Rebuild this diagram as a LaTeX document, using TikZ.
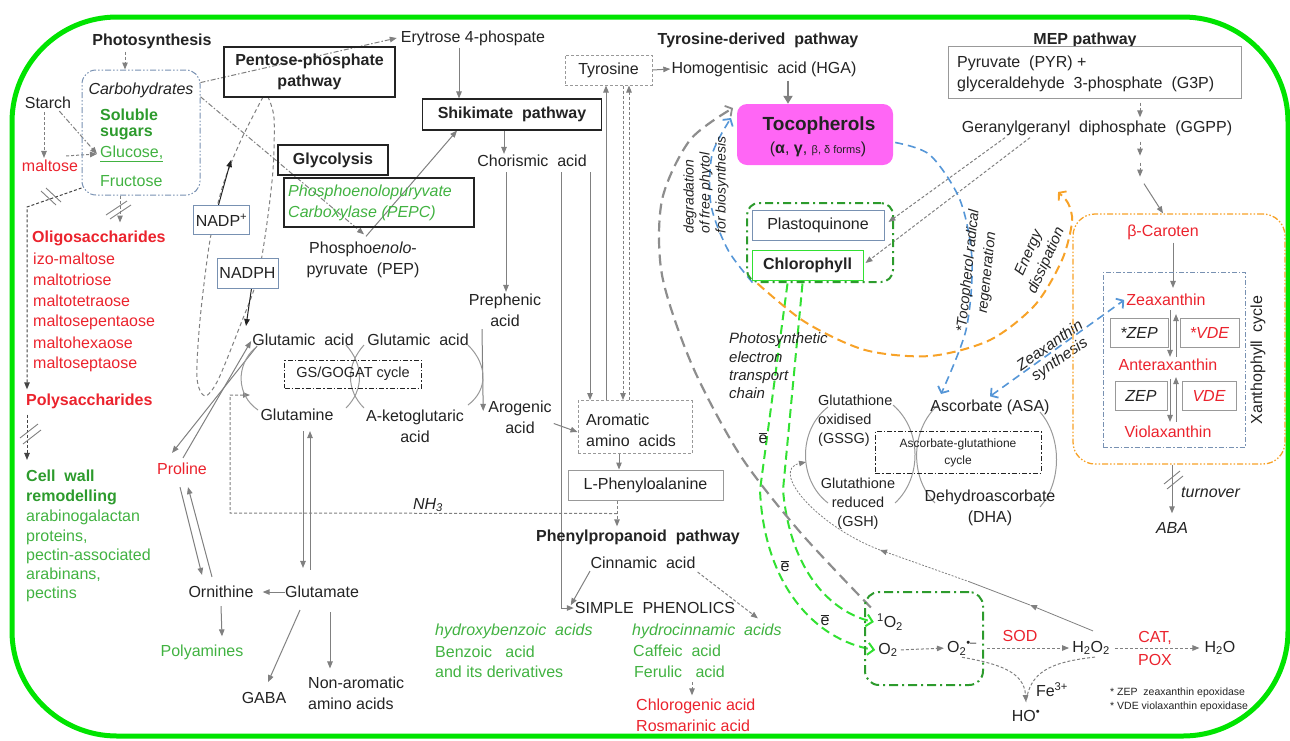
\documentclass[tikz,border=0pt]{standalone}
\usepackage{fontspec}
\setmainfont{Liberation Sans}
\usetikzlibrary{arrows.meta,calc}
\pgfdeclarelayer{bg}
\pgfsetlayers{bg,main}
\definecolor{ggreen}{RGB}{0,228,0}
\definecolor{tred}{RGB}{235,35,45}
\definecolor{tgreen}{RGB}{65,178,65}
\definecolor{dgreen}{RGB}{45,155,45}
\definecolor{agray}{RGB}{128,128,128}
\definecolor{bgray}{RGB}{120,145,178}
\definecolor{lblue}{RGB}{85,150,215}
\definecolor{orng}{RGB}{247,162,40}
\definecolor{magent}{RGB}{255,102,245}
\definecolor{lgreen}{RGB}{50,225,50}
\definecolor{tx}{RGB}{35,35,35}
\tikzset{
 T/.style={font=\fontsize{16}{21}\selectfont, text=tx, inner sep=0pt, align=center},
 TB/.style={T, font=\fontsize{16}{21}\selectfont\bfseries},
 TI/.style={T, font=\fontsize{16}{21}\selectfont\itshape},
 TR/.style={T, text=tred},
 TRB/.style={TB, text=tred},
 TRI/.style={TI, text=tred},
 TG/.style={T, text=tgreen},
 TGB/.style={TB, text=dgreen},
 TGI/.style={TI, text=tgreen},
 kbox/.style={draw=tx, line width=1.1pt, inner sep=0pt},
 gbox/.style={draw=agray!80, line width=1pt, fill=white, inner sep=0pt},
 bbox/.style={draw=bgray, line width=1pt, fill=white, inner sep=0pt},
 ddot/.style={dash pattern=on 6pt off 2pt on 1.5pt off 2pt on 1.5pt off 2pt},
 dd/.style={dash pattern=on 5pt off 2pt on 1.5pt off 2pt},
 atip/.style={-{Triangle[length=7pt,width=5.5pt]}},
 ar/.style={draw=agray, line width=1pt, atip},
 dar/.style={ar, dash pattern=on 3pt off 2pt},
 ddar/.style={ar, dd},
 brk/.style={draw=agray, line width=0.9pt},
 barb/.style={-{Straight Barb[length=5pt,width=12pt,line width=1.8pt]}},
 cyc/.style={draw=agray!80, line width=1pt},
}
\begin{document}
\begin{tikzpicture}[x=1pt,y=-1pt]
\useasboundingbox (0,0) rectangle (1290,740);
\draw[ggreen, line width=5pt, rounded corners=105pt] (12,17) rectangle (1288,736);

% ---------- left column
\node[TB] (photo) at (152,41) {Photosynthesis};
\node[draw=bgray, line width=1pt, ddot, rounded corners=14pt, minimum width=118pt, minimum height=125pt, inner sep=0pt] (carb) at (141,132.5) {};
\node[TI] (carbt) at (141,90) {Carbohydrates};
\node[TGB, anchor=west] (sol) at (100,115) {Soluble};
\node[TGB, anchor=west] (sug) at (100,134) {sugars};
\node[TG, anchor=west] (glc) at (100,154) {\underline{Glucose,}};
\node[TG, anchor=west] (fru) at (100,181) {Fructose};
\node[T] (starch) at (48,103) {Starch};
\node[TR] (malt) at (50,166) {maltose};
\node[TRB, anchor=west] (oligo) at (32,238) {Oligosaccharides};
\foreach \t [count=\i] in {izo-maltose,maltotriose,maltotetraose,maltosepentaose,maltohexaose,maltoseptaose}
  \node[TR, anchor=west] (ol\i) at (33,{238+21*\i}) {\t};
\node[TRB, anchor=west] (poly) at (26,401) {Polysaccharides};
\node[TGB, anchor=west] (cw1) at (26,476) {Cell\ \ wall};
\node[TGB, anchor=west] (cw2) at (26,497) {remodelling};
\node[TG, anchor=west] (cw3) at (26,517) {arabinogalactan};
\node[TG, anchor=west] (cw4) at (26,537) {proteins,};
\node[TG, anchor=west] (cw5) at (26,556) {pectin-associated};
\node[TG, anchor=west] (cw6) at (26,575) {arabinans,};
\node[TG, anchor=west] (cw7) at (26,594) {pectins};

% ---------- pentose / glycolysis
\node[kbox, TB, minimum width=171pt, minimum height=50pt] (ppp) at (309.5,72) {Pentose-phosphate\\pathway};
\node[kbox, TB, minimum width=110pt, minimum height=30pt] (glyc) at (333,160) {Glycolysis};
\node[kbox, minimum width=190pt, minimum height=49pt] (pepc) at (379,202.5) {};
\node[TGI, anchor=west, align=left] (pepct) at (288,203) {Phosphoenolopuryvate\\Carboxylase (PEPC)};
\node[T] (pep) at (363,259.5) {Phospho\textit{enolo}-\\pyruvate\ \ (PEP)};
\node[bbox, T, minimum width=56pt, minimum height=29pt] (nadp) at (221.5,220) {NADP\textsuperscript{+}};
\node[bbox, T, minimum width=61pt, minimum height=30pt] (nadph) at (247.5,273) {NADPH};
\coordinate (nadptip) at (231,160);
\coordinate (nadphtip) at (246,326);

% ---------- shikimate
\node[T] (ery) at (473,38) {Erytrose 4-phospate};
\node[kbox, TB, minimum width=179pt, minimum height=31pt] (shik) at (512,114.5) {Shikimate\ \ pathway};
\node[T] (chor) at (532,161) {Chorismic\ \ acid};
\node[T] (preph) at (505,310.5) {Prephenic\\acid};
\node[T] (arog) at (520,417.5) {Arogenic\\acid};
\node[draw=agray!80, line width=1pt, dash pattern=on 3pt off 2pt, minimum width=114pt, minimum height=53pt, inner sep=0pt] (arom) at (635,427) {};
\node[T, anchor=west, align=left] (aromt) at (586,430) {Aromatic\\amino\ \ acids};
\node[gbox, T, dash pattern=on 3pt off 2pt, minimum width=87pt, minimum height=30pt] (tyr) at (608.5,70) {Tyrosine};
\node[gbox, T, minimum width=155pt, minimum height=30pt] (lphe) at (645.5,485) {L-Phenyloalanine};
\node[TB] (phpp) at (638,537) {Phenylpropanoid\ \ pathway};
\node[T] (cinn) at (643,563) {Cinnamic\ \ acid};
\node[T] (simp) at (655,608) {SIMPLE\ \ PHENOLICS};
\node[TGI, anchor=west] (hba) at (435,631) {hydroxybenzoic\ \ acids};
\node[TG, anchor=west] (benz) at (435,652) {Benzoic\ \ \ acid};
\node[TG, anchor=west] (deriv) at (435,672) {and its derivatives};
\node[TGI, anchor=west] (hca) at (632,631) {hydrocinnamic\ \ acids};
\node[TG, anchor=west] (caf) at (633,651) {Caffeic\ \ acid};
\node[TG, anchor=west] (fer) at (634,672) {Ferulic\ \ \ acid};
\node[TR, anchor=west] (chlg) at (636,706) {Chlorogenic acid};
\node[TR, anchor=west] (rosm) at (636,726) {Rosmarinic acid};

% ---------- GS/GOGAT
\node[T] (glu1) at (303,340) {Glutamic\ \ acid};
\node[T] (glu2) at (418,340) {Glutamic\ \ acid};
\node[draw=tx, line width=1pt, dd, minimum width=137pt, minimum height=28pt, inner sep=0pt, T, font=\fontsize{14.5}{17}\selectfont] (gsgo) at (353,374) {GS/GOGAT cycle};
\node[T] (gln) at (297,415) {Glutamine};
\node[T] (akg) at (415,426) {A-ketoglutaric\\acid};
\node[TR] (pro) at (182,469) {Proline};
\node[T] (orn) at (221,592) {Ornithine};
\node[T] (glut) at (322,592) {Glutamate};
\node[TG] (pam) at (202,652) {Polyamines};
\node[T] (gaba) at (264,698) {GABA};
\node[T, anchor=west, align=left] (nonar) at (308,693) {Non-aromatic\\amino acids};
\node[TI] (nh3) at (428,505) {NH\textsubscript{3}};
\coordinate (nhj) at ([xshift=-28.5pt,yshift=-13pt]lphe.south);
\coordinate (nhend) at (250,395);

% ---------- tyrosine-derived / tocopherols
\node[TB] (tdp) at (758,40) {Tyrosine-derived\ \ pathway};
\node[T] (hga) at (764,69) {Homogentisic\ \ acid (HGA)};
\node[fill=magent, rounded corners=10pt, minimum width=156pt, minimum height=61pt, inner sep=0pt] (toco) at (815,134.5) {};
\node[TB, font=\fontsize{19}{22}\selectfont\bfseries] (tocot) at (819,126) {Tocopherols};
\node[T] (tocof) at (818,149) {(\textbf{α}, \textbf{γ}, {\fontsize{11}{13}\selectfont β, δ forms})};
\node[draw=dgreen, line width=2pt, dash pattern=on 8pt off 4pt on 2pt off 4pt, rounded corners=12pt, minimum width=146pt, minimum height=79pt, inner sep=0pt] (pcbox) at (820,242.5) {};
\node[bbox, T, minimum width=132pt, minimum height=30pt] (pq) at (818,225) {Plastoquinone};
\node[draw=lgreen, line width=1pt, fill=white, TB, minimum width=111pt, minimum height=30pt] (chl) at (807.5,265) {Chlorophyll};
\node[TI, font=\fontsize{14}{16}\selectfont\itshape, align=left, rotate=90] (degr) at (706,185) {degradation\\of free phytol\\for biosynthesis};
\node[TI, font=\fontsize{15}{18.3}\selectfont\itshape, align=left, anchor=west] (pet) at (729,366) {Photosynthetic\\electron\\transport\\chain};
\node[TI, font=\fontsize{14.5}{19}\selectfont\itshape, rotate=84] (trr) at (978,272) {*Tocopherol radical\\regeneration};
\node[TI, font=\fontsize{15}{19}\selectfont\itshape, rotate=66] (ened) at (1038,257) {Energy\\dissipation};
\node[TI, font=\fontsize{15.5}{17}\selectfont\itshape, rotate=35] (zsyn) at (1055,353) {Zeaxanthin\\synthesis};

% ---------- MEP
\node[TB] (mep) at (1085,40) {MEP pathway};
\node[gbox, minimum width=293pt, minimum height=52pt] (pyr) at (1094.5,72) {};
\node[T, anchor=west, align=left] (pyrt) at (957,74) {Pyruvate\ \ (PYR) +\\glyceraldehyde\ \ 3-phosphate\ \ (G3P)};
\node[T] (ggpp) at (1097,128) {Geranylgeranyl\ \ diphosphate\ \ (GGPP)};

% ---------- xanthophyll
\node[draw=orng, line width=1.3pt, ddot, rounded corners=22pt, minimum width=212pt, minimum height=250pt, inner sep=0pt] (obox) at (1179,339) {};
\node[draw=bgray, line width=1pt, dd, minimum width=142pt, minimum height=175pt, inner sep=0pt] (xbox) at (1174,359.5) {};
\node[TR] (bcar) at (1163,232) {β-Caroten};
\node[TR] (zea) at (1166,300) {Zeaxanthin};
\node[gbox, TI, minimum width=58pt, minimum height=29pt] (zep1) at (1139,332.5) {*ZEP};
\node[gbox, TRI, minimum width=59pt, minimum height=29pt] (vde1) at (1209.5,332.5) {*VDE};
\node[TR] (ant) at (1168,365) {Anteraxanthin};
\node[gbox, TI, minimum width=52pt, minimum height=29pt] (zep2) at (1141,395.5) {ZEP};
\node[gbox, TRI, minimum width=54pt, minimum height=29pt] (vde2) at (1209,395.5) {VDE};
\node[TR] (vio) at (1168,432) {Violaxanthin};
\node[T, rotate=90] (xc) at (1258,360) {Xanthophyll\ \ cycle};
\node[TI, anchor=west] (turn) at (1181,492) {turnover};
\node[TI] (aba) at (1172,528) {ABA};

% ---------- ascorbate-glutathione
\node[T, font=\fontsize{14.5}{19}\selectfont, anchor=west, align=left] (gssg) at (818,420.5) {Glutathione\\oxidised\\(GSSG)};
\node[T, font=\fontsize{14.5}{19}\selectfont] (gsh) at (858,504) {Glutathione\\reduced\\(GSH)};
\node[T] (asa) at (990,407) {Ascorbate (ASA)};
\node[draw=tx, line width=1pt, dd, minimum width=166pt, minimum height=42pt, inner sep=0pt] (agbox) at (958,452) {};
\node[T, font=\fontsize{12}{17}\selectfont] (agt) at (958,453) {Ascorbate-glutathione\\cycle};
\node[T] (dha) at (990,507.5) {Dehydroascorbate\\(DHA)};

% ---------- ROS
\node[draw=dgreen, line width=2pt, dash pattern=on 9pt off 4pt on 2pt off 4pt, rounded corners=14pt, minimum width=118pt, minimum height=93pt, inner sep=0pt] (rosbox) at (924,638.5) {};
\node[T] (so2) at (890,622) {\textsuperscript{1}O\textsubscript{2}};
\node[T] (o2) at (888,650) {O\textsubscript{2}};
\node[T] (sup) at (962,648) {O\textsubscript{2}\textsuperscript{•–}};
\node[TR] (sod) at (1020,636) {SOD};
\node[T] (h2o2) at (1091,648) {H\textsubscript{2}O\textsubscript{2}};
\node[TR, font=\fontsize{16}{23}\selectfont] (cat) at (1155,648.5) {CAT,\\POX};
\node[T] (h2o) at (1220,648) {H\textsubscript{2}O};
\node[T] (fe) at (1052,690) {Fe\textsuperscript{3+}};
\node[T] (ho) at (1026,716) {HO\textsuperscript{•}};
\node[T, font=\fontsize{10.5}{14}\selectfont, anchor=west, align=left] (fn) at (1110,700) {* ZEP\ \ zeaxanthin epoxidase\\* VDE violaxanthin epoxidase};
\node[T] (e1) at (763,438) {$\overline{\mbox{e}}$};
\node[T] (e2) at (785,566) {$\overline{\mbox{e}}$};
\node[T] (e3) at (825,620) {$\overline{\mbox{e}}$};

% curve helper coordinates
\coordinate (g0) at ([xshift=-6pt,yshift=6pt]so2.north west);
\coordinate (g1) at (733,108);
\coordinate (b0) at ([xshift=1pt,yshift=-2pt]chl.south west);
\coordinate (b1) at (731,118);
\coordinate (c0) at ([xshift=2pt,yshift=-8pt]toco.east);
\coordinate (c1) at (941,394);
\coordinate (o0) at ([xshift=6pt,yshift=-3pt]chl.south west);
\coordinate (o1) at (1058,192);
\coordinate (r1) at (1030,605);
\coordinate (r2) at (970,582);
\coordinate (r3) at (880,550);
\coordinate (r4) at (806,462);

\begin{pgfonlayer}{bg}
% left column
\draw[dar] ([xshift=-27pt,yshift=-3pt]photo.south) -- ([xshift=-16pt]carb.north);
\draw[dar] ([xshift=-4pt,yshift=-3pt]starch.south) -- ([xshift=-6pt,yshift=2pt]malt.north);
\draw[ddar] ([xshift=-12pt,yshift=-2pt]starch.south east) -- ([xshift=-3pt]glc.west);
\draw[dar] ([xshift=-12pt,yshift=4pt]malt.north east) -- ([xshift=-3pt]glc.west);
\draw[dar] ([xshift=-21pt]carb.south) -- ++(0,27);
\draw[brk] (106,215) -- (127,201) (110,219) -- (131,205);
\draw[dar, draw=tx!85] (carb.223) -- (27,207) -- ([xshift=1pt,yshift=4pt]poly.north west);
\draw[brk] (41,191) -- (56,205) (46,188) -- (61,202);
\draw[dar, draw=tx!85] ([xshift=1pt,yshift=-6pt]poly.south west) -- ([xshift=1pt,yshift=10pt]cw1.north west);
\draw[brk] (20,438) -- (38,424) (23,444) -- (41,430);
% pentose loop
\draw[agray, line width=1pt, dash pattern=on 4pt off 3pt] plot[smooth] coordinates {(263,97) (241,140) (223,185) (210,240) (200,320) (197,378) (205,396) (218,380) (240,326) (257,280) (266,230) (273,170) (274,118) (268,97)};
\draw[ddar] (carb.40) -- ([xshift=-4pt]ery.west);
\draw[ddar] (carb.31) -- ([xshift=1pt,yshift=7pt]pep.north);
\draw[ar] ([xshift=3pt,yshift=5pt]pep.north) -- ([xshift=-55pt]shik.south);
\draw[ar, draw=tx] ([xshift=-3pt]nadp.north) -- (nadptip);
\draw[ar, draw=tx] ([xshift=4pt]nadph.south) -- (nadphtip);
% shikimate
\draw[ar] ([xshift=-14pt,yshift=-2pt]ery.south) -- ([xshift=-53pt]shik.north);
\draw[ar] ([xshift=-8pt]shik.south) -- ([xshift=-28pt,yshift=1pt]chor.north);
\draw[ar] ([xshift=-26pt,yshift=-5pt]chor.south) -- ([xshift=1pt,yshift=2pt]preph.north);
\draw[ar] ([xshift=29pt,yshift=-5pt]chor.south) |- ([xshift=-1pt]simp.west);
\draw[ar] ([xshift=58pt,yshift=-5pt]chor.south) -- ([xshift=-45pt]arom.north);
\draw[ar] ([xshift=-29pt]arom.north) -- ([xshift=-2.5pt]tyr.south);
\draw[dar] ([xshift=14.5pt]tyr.south) -- ([xshift=-12pt]arom.north);
\draw[dar] ([xshift=-6pt]arom.north) -- ([xshift=20.5pt]tyr.south);
\draw[ar] (tyr.east) -- ([xshift=-1pt]hga.west);
\draw[ar, line width=2.5pt, -{Triangle[length=8pt,width=9pt]}] ([xshift=24pt,yshift=-4pt]hga.south) -- ([xshift=-27pt]toco.north);
\draw[ar] ([xshift=-23pt,yshift=-2pt]preph.south) -- ([xshift=-5pt,yshift=-10pt]arog.north west);
\draw[ar] ([xshift=2pt,yshift=-6pt]arog.east) -- ([yshift=-5pt]arom.west);
\draw[ar] ([xshift=-16pt]arom.south) -- ([xshift=-26.5pt]lphe.north);
\draw[dar] ([xshift=-28.5pt]lphe.south) -- ([xshift=-21pt,yshift=3pt]phpp.north);
\draw[dar] (nhj) -- (230,513) -- (230,395) -- (nhend);
\draw[ar] ([xshift=-53pt,yshift=-2pt]cinn.south) -- ([xshift=-4pt,yshift=-3pt]simp.north west);
\draw[dar] ([xshift=2pt,yshift=-3pt]cinn.south east) -- ([xshift=51pt,yshift=5pt]hca.north);
\draw[dar] ([xshift=58pt,yshift=-4pt]fer.south west) -- ([xshift=56pt,yshift=3pt]chlg.north west);
% GS/GOGAT
\draw[ar] ([xshift=1pt,yshift=5pt]pro.north) -- ([xshift=-1pt,yshift=-1pt]glu1.west);
\draw[ar] ([xshift=5pt,yshift=-6pt]glu1.west) -- ([xshift=-10pt,yshift=10pt]pro.north);
\draw[ar] ([xshift=-9pt,yshift=9pt]orn.north) -- ([xshift=6pt,yshift=-12pt]pro.south);
\draw[ar] ([xshift=-2pt,yshift=-12pt]pro.south) -- ([xshift=-19pt,yshift=11pt]orn.north);
\draw[ar] ([xshift=6pt,yshift=-10pt]gln.south) -- ([xshift=-19pt,yshift=18pt]glut.north);
\draw[ar] ([xshift=-12pt,yshift=16pt]glut.north) -- ([xshift=13pt,yshift=-10pt]gln.south);
\draw[ar, shorten >=9pt] (glut.west) -- (orn.east);
\draw[ar] ([yshift=-8pt]orn.south) -- ([xshift=20pt,yshift=8pt]pam.north);
\draw[ar] ([xshift=-22pt,yshift=-12pt]glut.south) -- ([xshift=4pt,yshift=10pt]gaba.north);
\draw[ar] ([xshift=8pt,yshift=-14pt]glut.south) -- ([xshift=22pt,yshift=8pt]nonar.north west);
\draw[cyc] (255,348) .. controls (236,365) and (236,395) .. (258,410);
\draw[cyc] (346,345) .. controls (364,365) and (364,390) .. (346,408);
\draw[cyc] (364,345) .. controls (346,365) and (346,390) .. (364,408);
\draw[cyc] (468,345) .. controls (488,365) and (488,390) .. (468,405);
% ascorbate cycle arcs
\draw[cyc] (828,407) .. controls (798,430) and (798,480) .. (828,503);
\draw[cyc] (893,405) .. controls (922,430) and (922,478) .. (895,503);
\draw[cyc] (938,405) .. controls (910,430) and (910,478) .. (935,503);
\draw[cyc] (1040,412) .. controls (1062,437) and (1062,482) .. (1040,507);
% MEP
\draw[dar, shorten <=4pt, shorten >=3pt] ([xshift=45.5pt]pyr.south) -- ([xshift=43pt]ggpp.north);
\draw[dar] ([xshift=43pt,yshift=-6pt]ggpp.south) -- ++(0,14);
\draw[dar] ([xshift=43pt,yshift=-27pt]ggpp.south) -- ++(0,14);
\draw[ar] ([xshift=47pt,yshift=-48pt]ggpp.south) -- ([xshift=-16pt]obox.north);
\draw[dar] ([xshift=-92pt,yshift=-2pt]ggpp.south) -- ([xshift=4pt,yshift=3pt]pq.east);
\draw[dar] ([xshift=-67pt,yshift=-2pt]ggpp.south) -- ([xshift=2pt,yshift=2pt]chl.east);
% xanthophyll
\draw[ar] ([xshift=10pt,yshift=-3pt]bcar.south) -- ([xshift=7pt,yshift=6pt]zea.north);
\draw[ar] ([xshift=4pt,yshift=-4pt]zea.south) -- ([xshift=2pt,yshift=2pt]ant.north);
\draw[ar] ([xshift=8pt,yshift=2pt]ant.north) -- ([xshift=10pt,yshift=-8pt]zea.south);
\draw[ar] ([xshift=2pt,yshift=-8pt]ant.south) -- ([xshift=2pt,yshift=4pt]vio.north);
\draw[ar] ([xshift=8pt,yshift=4pt]vio.north) -- ([xshift=8pt,yshift=-6pt]ant.south);
\draw[ar] ([xshift=-7pt]obox.south) -- ([yshift=9pt]aba.north);
\draw[brk] (1164,484) -- (1180,471) (1167,489) -- (1183,476);
% curved connectors
\draw[lgreen, line width=2pt, dash pattern=on 9pt off 5pt, -{Straight Barb[length=6pt,width=12pt,line width=2pt]}] ([xshift=-20pt,yshift=-3pt]chl.south) -- (760,490) .. controls (764,585) and (815,640) .. ([xshift=-3pt]o2.west);
\draw[lgreen, line width=2pt, dash pattern=on 9pt off 5pt, -{Straight Barb[length=6pt,width=12pt,line width=2pt]}] ([xshift=-5pt,yshift=-3pt]chl.south) -- (783,490) .. controls (790,570) and (830,612) .. ([xshift=-3pt]so2.west);
\draw[agray!90, line width=2.2pt, dash pattern=on 11pt off 6pt, barb] plot[smooth] coordinates {(g0) (800,532) (740,455) (692,365) (662,275) (662,200) (690,140) (g1)};
\draw[lblue, line width=1.6pt, dash pattern=on 8pt off 5pt, barb] plot[smooth] coordinates {(b0) (728,250) (711,205) (712,155) (b1)};
\draw[lblue, line width=1.6pt, dash pattern=on 8pt off 5pt, barb] plot[smooth] coordinates {(c0) (930,155) (960,200) (972,260) (966,330) (c1)};
\draw[orng, line width=2pt, dash pattern=on 9pt off 5pt, barb] plot[smooth] coordinates {(o0) (805,322) (865,350) (930,356) (990,340) (1035,305) (1062,260) (1072,222) (1068,203) (o1)};
\draw[lblue, line width=1.6pt, dash pattern=on 8pt off 5pt, {Straight Barb[length=5pt,width=12pt,line width=1.8pt]}-{Straight Barb[length=5pt,width=12pt,line width=1.8pt]}] ([yshift=3pt]asa.north) -- ([xshift=-2pt]zea.west);
% ROS
\draw[dar, shorten <=3pt, shorten >=3pt] (o2.east) -- (sup.west);
\draw[dar, shorten <=10pt, shorten >=3pt] (sup.east) -- (h2o2.west);
\draw[dar, shorten <=5pt, shorten >=5pt] (h2o2.east) -- (h2o.west);
\draw[dar] ([yshift=-2pt]sup.south) .. controls (1000,664) and (1024,672) .. ([yshift=8pt]ho.north);
\draw[agray, line width=1pt, dash pattern=on 3pt off 2pt] ([xshift=4pt,yshift=-2pt]h2o2.south) .. controls (1050,662) and (1030,672) .. ([yshift=8pt]ho.north);
\draw[ar, line width=0.8pt] ([xshift=2pt,yshift=10pt]h2o2.north) -- (r1);
\draw[agray, line width=0.8pt] (r1) -- (r2);
\draw[ar, line width=0.8pt, dash pattern=on 2pt off 1.5pt] (r2) -- (r3);
\draw[ar, line width=0.8pt, dash pattern=on 2pt off 1.5pt] (r3) .. controls (815,525) and (770,470) .. (r4);
\end{pgfonlayer}
\end{tikzpicture}
\end{document}
